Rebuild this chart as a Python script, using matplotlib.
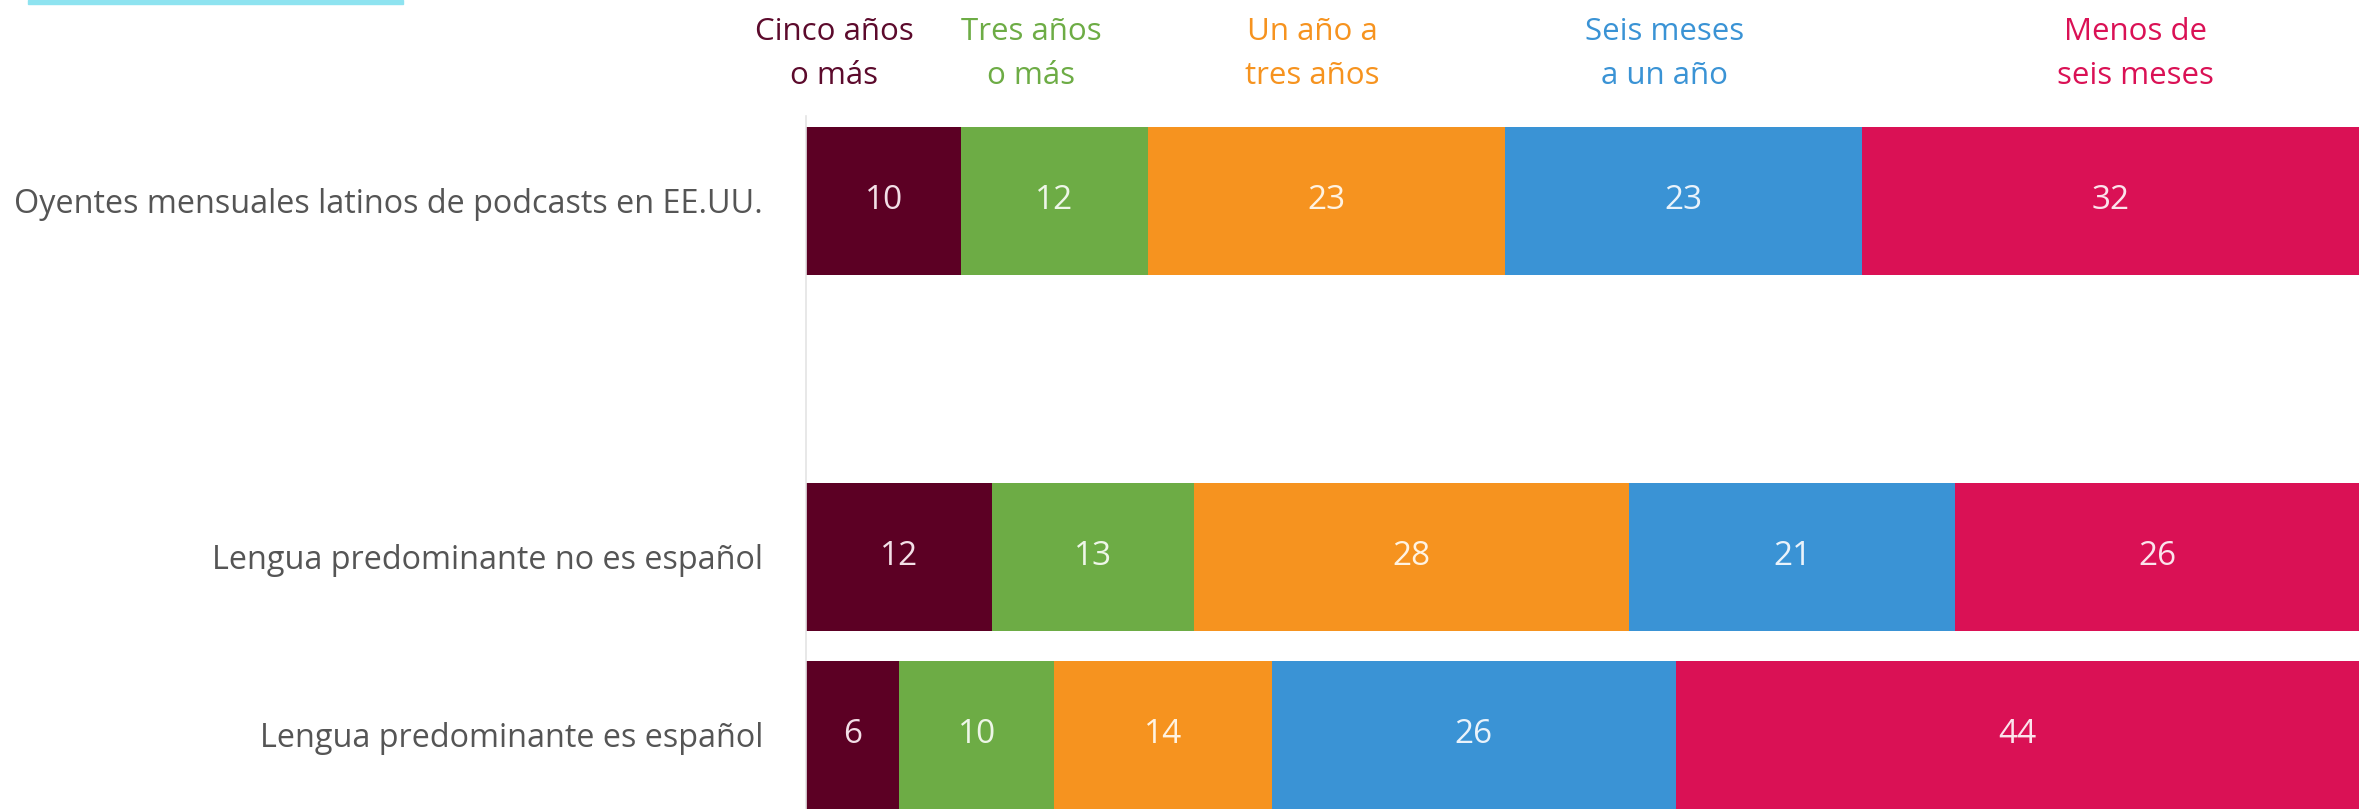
import matplotlib
matplotlib.use("Agg")
import matplotlib.pyplot as plt
import matplotlib.transforms as mtransforms
from matplotlib.patches import Rectangle

# data
groups = [
    "Oyentes mensuales latinos de podcasts en EE.UU.",
    "Lengua predominante no es español",
    "Lengua predominante es español",
]
group_pos = [0, 2, 3]  # empty slot between first and second bar

series = [
    "Cinco años\no más",
    "Tres años\no más",
    "Un año a\ntres años",
    "Seis meses\na un año",
    "Menos de\nseis meses",
]
cinco = [10, 12, 6]
tres = [12, 13, 10]
un_ano = [23, 28, 14]
seis_meses = [23, 21, 26]
menos = [32, 26, 44]
values = [cinco, tres, un_ano, seis_meses, menos]

colors = ["#5c0024", "#6dac45", "#f6931f", "#3a93d5", "#da1155"]
header_colors = ["#5c0a2c", "#6dac45", "#f6931f", "#3a93d5", "#da1155"]
label_colors = ["#f3dfe7", "#eef6e8", "#fff3e2", "#eaf3fb", "#fbe4ec"]
header_x = [1.8, 14.5, 32.6, 55.3, 85.6]

plt.rcParams["font.family"] = ["Open Sans", "DejaVu Sans"]

fig = plt.figure(figsize=(23.59, 8.09), dpi=100)
ax = fig.add_axes([806 / 2359, 0.0, 1 - 806 / 2359, 1 - 116 / 809])

left = [0] * len(groups)
for vals, col, lcol in zip(values, colors, label_colors):
    bars = ax.barh(group_pos, vals, left=left, height=0.83, color=col,
                   edgecolor="none")
    for b, v in zip(bars, vals):
        ax.text(b.get_x() + b.get_width() / 2, b.get_y() + b.get_height() / 2,
                str(v), ha="center", va="center", fontsize=24, color=lcol)
    left = [l + v for l, v in zip(left, vals)]

ax.set_xlim(0, 100)
ax.set_ylim(3.416, -0.477)
ax.set_yticks(group_pos)
ax.set_yticklabels(groups, fontsize=23.3, color="#555555")
ax.tick_params(axis="y", length=0, pad=31)
ax.set_xticks([])
for s in ["top", "right", "bottom"]:
    ax.spines[s].set_visible(False)
ax.spines["left"].set_color("#e4e4e4")
ax.spines["left"].set_linewidth(1.2)

# column headers above the bars
trans = mtransforms.blended_transform_factory(ax.transData, fig.transFigure)
for name, x, col in zip(series, header_x, header_colors):
    ax.text(x, 1 - 54 / 809, name, transform=trans, ha="center", va="center",
            fontsize=22.5, color=col, linespacing=1.6)

# cropped cyan strip at the top-left edge
fig.patches.append(Rectangle((28 / 2359, 1 - 4 / 809), 375 / 2359, 4 / 809,
                             transform=fig.transFigure, color="#8ee3f0",
                             zorder=5))

fig.savefig("out.png", dpi=100)
